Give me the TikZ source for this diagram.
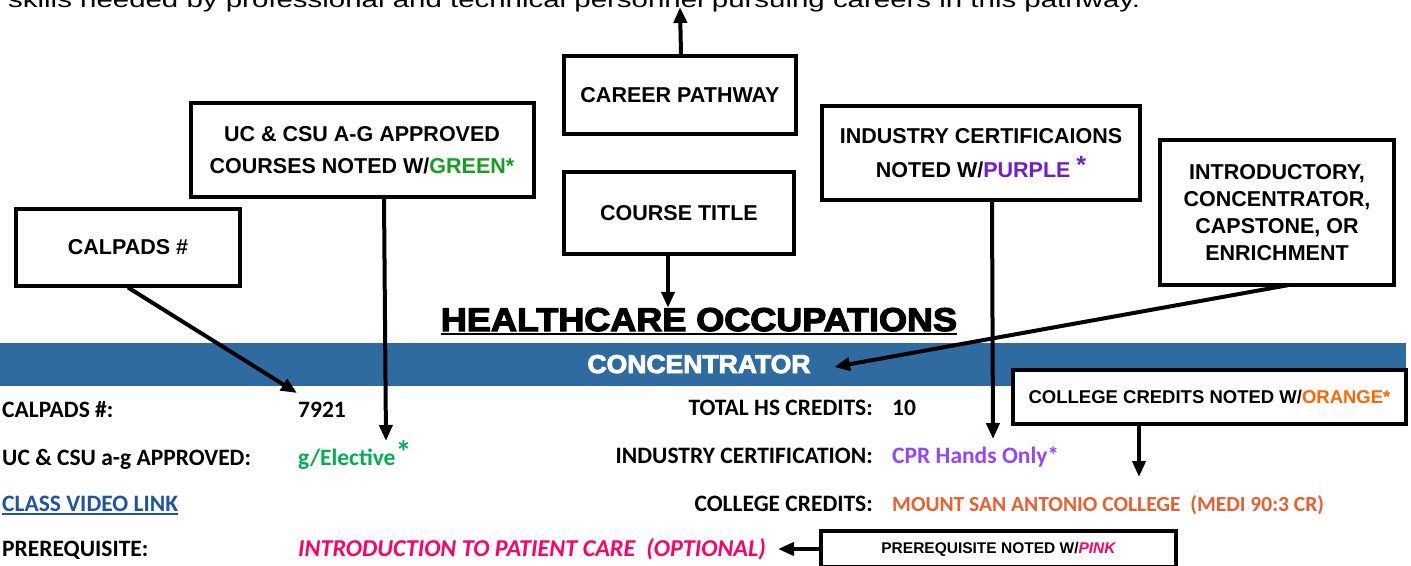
\documentclass[tikz,border=0pt]{standalone}
\usepackage{fontspec}
\usetikzlibrary{arrows.meta}
\setmainfont{Liberation Sans}
\newfontfamily\calfont{Carlito}
\newcommand\heavy{\bfseries\addfontfeature{FakeBold=3.5}}
\definecolor{bandblue}{RGB}{46,107,161}
\definecolor{boxgreen}{RGB}{20,160,30}
\definecolor{valgreen}{RGB}{0,176,80}
\definecolor{boxpurple}{RGB}{110,30,210}
\definecolor{valpurple}{RGB}{150,70,250}
\definecolor{boxorange}{RGB}{255,102,0}
\definecolor{valorange}{RGB}{235,95,45}
\definecolor{pinkc}{RGB}{255,0,100}
\definecolor{linkblue}{RGB}{30,85,160}
\tikzset{
  box/.style={draw, line width=4pt, fill=white, inner sep=0pt, align=center,
    font=\fontsize{21.5}{32}\selectfont\bfseries},
  arr/.style={line width=4pt, -{Triangle[length=16pt,width=13pt]}},
  rowtxt/.style={anchor=base west, inner sep=0pt, font=\calfont\bfseries\fontsize{23.5}{28}\selectfont},
  rowR/.style={anchor=base east, inner sep=0pt, font=\calfont\bfseries\fontsize{23.5}{28}\selectfont},
}
\begin{document}
\begin{tikzpicture}[x=1pt,y=-1pt]
\useasboundingbox (0,0) rectangle (1411,565);
% top cut text
\node[anchor=base west, inner sep=0pt] (toptext) at (8,7)
  {\resizebox{1132pt}{16pt}{\fontsize{22}{22}\selectfont skills needed by professional and technical personnel pursuing careers in this pathway.}};
% boxes
\node[box, minimum width=232pt, minimum height=78pt] (career) at (680,95) {CAREER PATHWAY};
\node[box, minimum width=230pt, minimum height=82pt] (course) at (679,213) {COURSE TITLE};
\node[box, minimum width=343pt, minimum height=94pt] (uc) at (362,150)
  {UC \& CSU A-G APPROVED\\COURSES NOTED W/\textcolor{boxgreen}{GREEN*}};
\node[box, minimum width=224pt, minimum height=77pt] (calpads) at (128,247) {CALPADS \#};
\node[box, minimum width=318pt, minimum height=94pt, font=\fontsize{21.5}{34}\selectfont\bfseries] (indcert) at (981,153)
  {INDUSTRY CERTIFICAIONS\\NOTED W/\textcolor{boxpurple}{PURPLE \raisebox{4pt}{\fontsize{25}{25}\selectfont*}}};
\node[box, minimum width=234pt, minimum height=145pt, font=\fontsize{21.5}{27}\selectfont\bfseries] (intro) at (1277,212.5)
  {INTRODUCTORY,\\CONCENTRATOR,\\CAPSTONE, OR\\ENRICHMENT};
% title
\node[anchor=base, inner sep=0pt] (hc) at (699,331)
  {\resizebox{516pt}{23pt}{\heavy HEALTHCARE OCCUPATIONS}};
\draw[line width=2.5pt] ([yshift=-3pt]hc.base west) -- ([yshift=-3pt]hc.base east);
% band
\node[fill=bandblue, minimum width=1406pt, minimum height=43pt, inner sep=0pt] (band) at (703,364.5) {};
\node[anchor=base, inner sep=0pt, text=white] (conc) at (699,373)
  {\resizebox{223pt}{18pt}{\heavy CONCENTRATOR}};
% college credits box
\node[box, minimum width=393pt, minimum height=54pt, font=\fontsize{18.5}{22}\selectfont\bfseries] (ccbox) at (1209.5,397)
  {COLLEGE CREDITS NOTED W/\textcolor{boxorange}{ORANGE*}};
% prereq box
\node[box, minimum width=355pt, minimum height=36pt, font=\fontsize{15.5}{18}\selectfont\bfseries] (prbox) at (998.5,549)
  {PREREQUISITE NOTED W/\textcolor{pinkc}{\itshape PINK}};
% rows left
\node[rowtxt] (lcal) at (2,417) {CALPADS \#:};
\node[rowtxt] (v7921) at (298,417) {7921};
\node[rowtxt] (luc) at (2,465) {UC \& CSU a-g APPROVED:};
\node[rowtxt, text=valgreen] (vuc) at (298,465) {g/Elective\raisebox{2pt}{\fontsize{32}{32}\selectfont*}};
\node[rowtxt, text=linkblue] (link) at (2,511) {CLASS VIDEO LINK};
\draw[linkblue, line width=1.5pt] ([yshift=-3pt]link.base west) -- ([yshift=-3pt]link.base east);
\node[rowtxt] (lpre) at (2,556) {PREREQUISITE:};
\node[rowtxt, text=pinkc, font=\calfont\bfseries\itshape\fontsize{24.2}{28}\selectfont] (vpre) at (298,556)
  {INTRODUCTION TO PATIENT CARE\ \ (OPTIONAL)};
% rows right
\node[rowR] (lhs) at (873,415) {TOTAL HS CREDITS:};
\node[rowtxt] (vhs) at (892,415) {10};
\node[rowR] (lind) at (873,463) {INDUSTRY CERTIFICATION:};
\node[rowtxt, text=valpurple] (vind) at (892,463) {CPR Hands Only*};
\node[rowR] (lcc) at (873,511) {COLLEGE CREDITS:};
\node[rowtxt, text=valorange, font=\calfont\bfseries\fontsize{21.5}{28}\selectfont] (vcc) at (892,511) {MOUNT SAN ANTONIO COLLEGE\ \ (MEDI 90:3 CR)};
% arrow targets
\coordinate (topTip) at (680,7);
\coordinate (calTip) at (297,393);
\coordinate (ucTip) at (386,441);
\coordinate (indTip) at (993,439);
\coordinate (concTip) at (834,367);
\coordinate (ccTip) at (1139,477);
\coordinate (preTip) at (778,549);
\coordinate (introFrom) at (1289,285);
% arrows
\draw[arr] (career.north -| 681,0) -- (topTip);
\draw[arr] (course.south -| 668,0) -- (hc.north -| 668,0);
\draw[arr] (calpads.south) -- (calTip);
\draw[arr] (uc.south -| 384,0) -- (ucTip);
\draw[arr] (indcert.south -| 992,0) -- (indTip);
\draw[arr] (introFrom) -- (concTip);
\draw[arr] (ccbox.south -| ccTip) -- (ccTip);
\draw[arr] (prbox.west) -- (preTip);
\end{tikzpicture}
\end{document}
